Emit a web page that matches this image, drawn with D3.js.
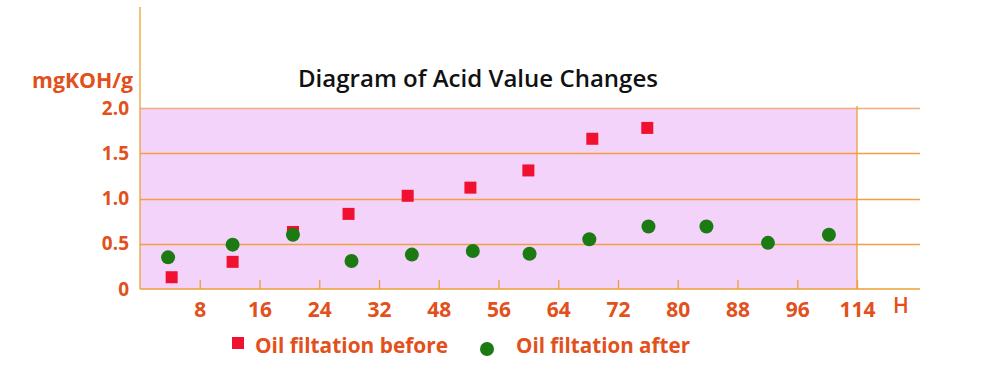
<!DOCTYPE html>
<html><head><meta charset="utf-8">
<script src="https://cdn.jsdelivr.net/npm/d3@7"></script>
<style>body{margin:0;background:#fff}svg{display:block}</style>
</head><body><svg id="c" width="1000" height="374"></svg>
<script>
// ---- data ----
const xTickLabels = ["8","16","24","32","48","56","64","72","80","88","96","114"];
const xUnit = "H";
const yTickValues = [0, 0.5, 1.0, 1.5, 2.0];
const yUnit = "mgKOH/g";
const title = "Diagram of Acid Value Changes";
const seriesNames = ["Oil filtation before", "Oil filtation after"];
// positions measured in tick-slot units (0 = origin, 1 = "8", 2 = "16", ...)
const beforeSlots  = [0.53, 1.55, 2.56, 3.49, 4.48, 5.53, 6.50, 7.57, 8.49];
const beforeValues = [0.13, 0.30, 0.63, 0.83, 1.03, 1.12, 1.31, 1.66, 1.78];
const afterSlots   = [0.47, 1.55, 2.56, 3.54, 4.55, 5.57, 6.52, 7.52, 8.51, 9.48, 10.51, 11.53];
const afterValues  = [0.35, 0.49, 0.60, 0.31, 0.38, 0.42, 0.39, 0.55, 0.69, 0.69, 0.51, 0.60];

// ---- style ----
const C = {text:"#e2501c", axis:"#eba033", grid:"#f0a040", fill:"#f3d3fa", red:"#f0102f", green:"#1c7a12"};
const FONT = "'Open Sans', 'Noto Sans', sans-serif";

const svg = d3.select("#c");
const x = d3.scaleLinear().domain([0, xTickLabels.length]).range([140, 857]);
const y = d3.scaleLinear().domain([0, 2]).range([289, 108]);
const xEnd = 920;

// pink plot area
svg.append("rect").attr("x", x(0)).attr("y", y(2)).attr("width", x(xTickLabels.length) - x(0))
  .attr("height", y(0) - y(2)).attr("fill", C.fill);

// gridlines
svg.append("g").selectAll("line").data(yTickValues.filter(d => d > 0)).join("line")
  .attr("x1", x(0)).attr("x2", xEnd).attr("y1", d => Math.round(y(d)) + 0.5).attr("y2", d => Math.round(y(d)) + 0.5)
  .attr("stroke", d => d === 2 ? "#f2ab80" : C.grid).attr("stroke-width", 1.3);

// right vertical border of plot
svg.append("line").attr("x1", x(xTickLabels.length)).attr("x2", x(xTickLabels.length))
  .attr("y1", y(2) - 2).attr("y2", y(0)).attr("stroke", C.axis).attr("stroke-width", 1.3);

// x axis
const xAxis = d3.axisBottom(x)
  .tickValues(d3.range(1, xTickLabels.length + 1))
  .tickFormat(i => xTickLabels[i - 1])
  .tickSizeInner(-9).tickSizeOuter(0).tickPadding(13);
const gx = svg.append("g").attr("transform", `translate(0,${y(0)})`).call(xAxis);
gx.select(".domain").remove();
gx.selectAll(".tick line").attr("stroke", C.axis).attr("stroke-width", 1.3);
gx.selectAll(".tick text").attr("fill", C.text).attr("font-family", FONT)
  .attr("font-size", 21).attr("font-weight", 700);
svg.append("line").attr("x1", x(0)).attr("x2", xEnd).attr("y1", y(0)).attr("y2", y(0))
  .attr("stroke", C.axis).attr("stroke-width", 1.5);
svg.append("text").attr("x", 901).attr("y", 313).attr("text-anchor", "middle")
  .attr("fill", C.text).attr("font-family", FONT).attr("font-size", 21).attr("font-weight", 600).text(xUnit);

// y axis
const yAxis = d3.axisLeft(y).tickValues(yTickValues)
  .tickFormat(d => d === 0 ? "0" : d3.format(".1f")(d)).tickSize(0).tickPadding(11);
const gy = svg.append("g").attr("transform", `translate(${x(0)},0)`).call(yAxis);
gy.select(".domain").remove();
gy.selectAll(".tick text").attr("fill", C.text).attr("font-family", FONT)
  .attr("font-size", 19).attr("font-weight", 700);
svg.append("line").attr("x1", x(0)).attr("x2", x(0)).attr("y1", 7).attr("y2", y(0))
  .attr("stroke", C.axis).attr("stroke-width", 1.3);
svg.append("text").attr("x", 133).attr("y", 88).attr("text-anchor", "end")
  .attr("fill", C.text).attr("font-family", FONT).attr("font-size", 21).attr("font-weight", 700)
  .attr("textLength", 101).attr("lengthAdjust", "spacingAndGlyphs").text(yUnit);

// title
svg.append("text").attr("x", 298).attr("y", 87)
  .attr("fill", "#111").attr("font-family", FONT).attr("font-size", 23).attr("font-weight", 600)
  .attr("textLength", 360).attr("lengthAdjust", "spacingAndGlyphs").text(title);

// series
const sq = 12;
svg.append("g").selectAll("rect").data(beforeSlots.map((s, i) => [s, beforeValues[i]])).join("rect")
  .attr("x", d => x(d[0]) - sq / 2).attr("y", d => y(d[1]) - sq / 2)
  .attr("width", sq).attr("height", sq).attr("fill", C.red);
svg.append("g").selectAll("circle").data(afterSlots.map((s, i) => [s, afterValues[i]])).join("circle")
  .attr("cx", d => x(d[0])).attr("cy", d => y(d[1])).attr("r", 7).attr("fill", C.green);

// legend
svg.append("rect").attr("x", 232).attr("y", 337).attr("width", 12).attr("height", 12).attr("fill", C.red);
svg.append("text").attr("x", 255).attr("y", 353).attr("fill", C.text).attr("font-family", FONT)
  .attr("font-size", 21).attr("font-weight", 700)
  .attr("textLength", 193).attr("lengthAdjust", "spacingAndGlyphs").text(seriesNames[0]);
svg.append("circle").attr("cx", 487).attr("cy", 349).attr("r", 7).attr("fill", C.green);
svg.append("text").attr("x", 516).attr("y", 353).attr("fill", C.text).attr("font-family", FONT)
  .attr("font-size", 21).attr("font-weight", 700)
  .attr("textLength", 174).attr("lengthAdjust", "spacingAndGlyphs").text(seriesNames[1]);
</script>
</body></html>
